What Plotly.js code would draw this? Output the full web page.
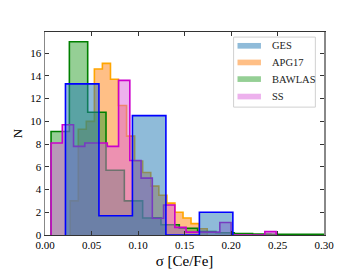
<!DOCTYPE html>
<html>
<head>
<meta charset="utf-8">
<script src="https://cdn.plot.ly/plotly-3.0.1.min.js"></script>
<style>html,body{margin:0;padding:0;background:#fff;}#chart{width:360px;height:270px;}</style>
</head>
<body>
<div id="chart"></div>
<script>
// ---- data ----
const seriesNames = ["GES", "APG17", "BAWLAS", "SS"];

const gesEdges = [0.022, 0.058, 0.094, 0.130, 0.166, 0.202];
const gesCounts = [13.3, 1.7, 10.5, 0, 2.0];

const apgEdges = [0.0271, 0.0358, 0.0444, 0.0531, 0.0617, 0.0704, 0.0790, 0.0877, 0.0964, 0.1050,
                  0.1137, 0.1224, 0.1310, 0.1397, 0.1484, 0.1570, 0.1657, 0.1744];
const apgCounts = [3.0, 9.3, 10.0, 14.6, 15.1, 13.7, 11.4, 8.7, 6.5, 5.5,
                   4.3, 3.5, 2.8, 2.0, 1.5, 1.0, 0.55];

const bawEdges = [0.0065, 0.0262, 0.0459, 0.0656, 0.0853, 0.1050, 0.1247, 0.1444, 0.1641, 0.1838,
                  0.2035, 0.2232, 0.2429, 0.2626, 0.2823, 0.3020];
const bawCounts = [9.1, 17.0, 10.8, 5.7, 3.0, 1.5, 0.9, 0.6, 0.3, 0.2,
                   0.12, 0.08, 0.06, 0.06, 0.06];

const ssEdges = [0.0065, 0.0186, 0.0307, 0.0428, 0.0549, 0.0670, 0.0791, 0.0912, 0.1033, 0.1154,
                 0.1275, 0.1396, 0.1517, 0.1638, 0.1759, 0.1880, 0.2001, 0.2122, 0.2243, 0.2364, 0.2485];
const ssCounts = [8.1, 9.7, 7.8, 8.1, 8.1, 7.8, 13.6, 6.55, 5.0, 1.47,
                  2.64, 0.67, 0.25, 0.25, 0.25, 1.1, 0, 0, 0, 0.3];

const xTickVals = [0, 0.05, 0.10, 0.15, 0.20, 0.25, 0.30];
const xTickText = ["0.00", "0.05", "0.10", "0.15", "0.20", "0.25", "0.30"];
const yTickVals = [0, 2, 4, 6, 8, 10, 12, 14, 16];

// ---- styles ----
const styles = {
  GES:    {fill: "rgba(31,119,180,0.5)",  line: "#0000ff", patch: "#8fbbd9"},
  APG17:  {fill: "rgba(255,127,14,0.5)",  line: "#ffa500", patch: "#ffbf86"},
  BAWLAS: {fill: "rgba(44,160,44,0.5)",   line: "#008000", patch: "#95cf95"},
  SS:     {fill: "rgba(220,100,220,0.5)", line: "#cc00cc", patch: "#edb1ed"}
};

function stepTrace(name, edges, counts) {
  const x = [edges[0]];
  const y = [0];
  for (let i = 0; i < counts.length; i++) { x.push(edges[i]); y.push(counts[i]); }
  x.push(edges[edges.length - 1]); y.push(0);
  return {
    type: "scatter", mode: "lines", name: name, x: x, y: y,
    line: {shape: "hv", color: styles[name].line, width: 1.6},
    fill: "tozeroy", fillcolor: styles[name].fill,
    showlegend: false, hoverinfo: "skip"
  };
}

const data = [
  stepTrace("APG17", apgEdges, apgCounts),
  stepTrace("BAWLAS", bawEdges, bawCounts),
  stepTrace("SS", ssEdges, ssCounts),
  stepTrace("GES", gesEdges, gesCounts)
];

// ---- manual legend ----
const shapes = [{
  type: "rect", xref: "paper", yref: "paper", x0: 0.676, x1: 0.969, y0: 0.630, y1: 0.975,
  line: {color: "#d0d0d0", width: 1}, fillcolor: "rgba(255,255,255,0.85)", layer: "above"
}];
const annotations = [];
const legY = [0.932, 0.850, 0.768, 0.682];
seriesNames.forEach((n, i) => {
  shapes.push({type: "rect", xref: "paper", yref: "paper", x0: 0.690, x1: 0.774,
               y0: legY[i] - 0.014, y1: legY[i] + 0.014, line: {width: 0},
               fillcolor: styles[n].patch, layer: "above"});
  annotations.push({xref: "paper", yref: "paper", x: 0.805, y: legY[i], text: n,
                    showarrow: false, xanchor: "left", yanchor: "middle",
                    font: {family: "Liberation Serif", size: 10.5, color: "#222"}});
});

const layout = {
  width: 360, height: 270,
  margin: {l: 45, r: 36.3, t: 32.3, b: 35, pad: 0},
  paper_bgcolor: "#fff", plot_bgcolor: "#fff",
  font: {family: "Liberation Serif", size: 11, color: "#000"},
  showlegend: false,
  xaxis: {
    range: [0, 0.30], tickvals: xTickVals, ticktext: xTickText,
    ticks: "inside", ticklen: 4, tickcolor: "#333", mirror: "ticks",
    showline: true, linecolor: "#333", linewidth: 1, showgrid: false, zeroline: false,
    tickfont: {family: "Liberation Serif", size: 11, color: "#000"},
    title: {text: "σ [Ce/Fe]", font: {family: "Liberation Serif", size: 15, color: "#000"}, standoff: 5}
  },
  yaxis: {
    range: [0, 17.86], tickvals: yTickVals,
    ticks: "inside", ticklen: 4, tickcolor: "#333", mirror: "ticks",
    showline: true, linecolor: "#888", linewidth: 1.5, showgrid: false, zeroline: false,
    tickfont: {family: "Liberation Serif", size: 11, color: "#000"},
    title: {text: "N", font: {family: "Liberation Serif", size: 13, color: "#000"}, standoff: 4}
  },
  shapes: shapes,
  annotations: annotations
};

Plotly.newPlot("chart", data, layout, {staticPlot: true, displayModeBar: false});
</script>
</body>
</html>
